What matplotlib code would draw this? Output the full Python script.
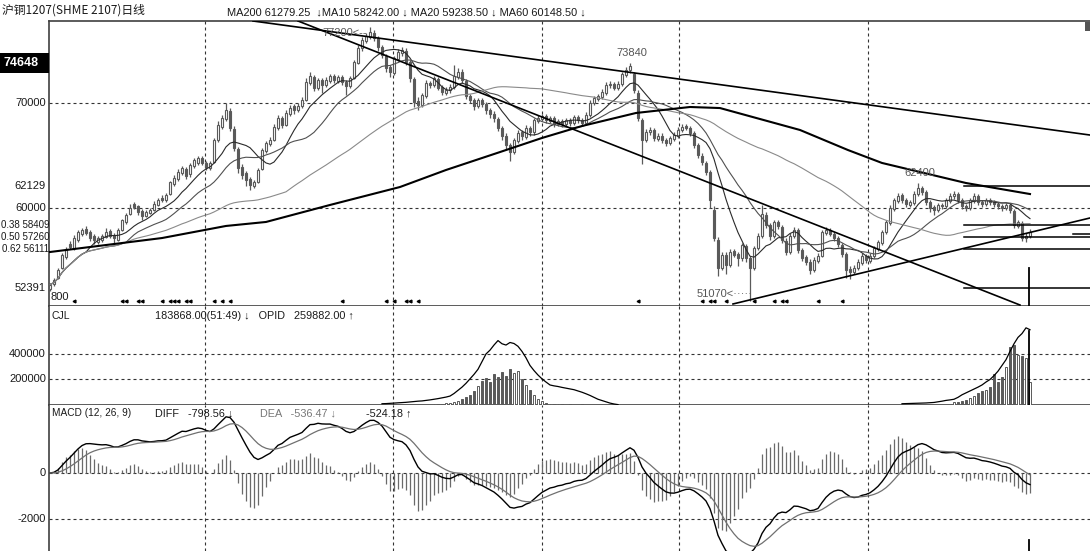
import numpy as np
import pandas as pd
import matplotlib
matplotlib.use('Agg')
import matplotlib.pyplot as plt
from matplotlib.patches import Rectangle

plt.rcParams['font.family'] = ['Liberation Sans', 'DejaVu Sans']

# ---------------- data ----------------
opens = [
52300, 52800, 53300, 54300, 55300, 56600, 56200, 57000, 57500, 58000,
57700, 57300, 56800, 57000, 57200, 57800, 57400, 57000, 57900, 58700,
59400, 60400, 60200, 59700, 59200, 59500, 59800, 60300, 61000, 60800,
61300, 62300, 62800, 63300, 63700, 63200, 64000, 64300, 64800, 64300,
63800, 64400, 66500, 67700, 68500, 69200, 67500, 65600, 63900, 63300,
62800, 62100, 62500, 63700, 65400, 66100, 66500, 67600, 68600, 67900,
69000, 69700, 69300, 69700, 70300, 71900, 72500, 71400, 72200, 71700,
72100, 72600, 72100, 72500, 72000, 71600, 72400, 73800, 75200, 75900,
76300, 76700, 76200, 75300, 74500, 73400, 72900, 74200, 74800, 75000,
73900, 72300, 70200, 69800, 70700, 71900, 71700, 72300, 71500, 71000,
71200, 71500, 72500, 73000, 72100, 70700, 70300, 69700, 70300, 69900,
69300, 69000, 68500, 67600, 66900, 66000, 65300, 66400, 67200, 66800,
67600, 67200, 68300, 68500, 68800, 68300, 68600, 68000, 68300, 68000,
68400, 68100, 68700, 68400, 68100, 68900, 70000, 70400, 70600, 71000,
71700, 71800, 71400, 71800, 72700, 73100, 72800, 71000, 68400, 66500,
67200, 67400, 66600, 66900, 66500, 66200, 66600, 66900, 67400, 67800,
67600, 67100, 66000, 65000, 64300, 63400, 59800, 57000, 54300, 55500,
54600, 55900, 55600, 55200, 56400, 55200, 54300, 56200, 57300, 59300,
58400, 57300, 58700, 58200, 56900, 55800, 57300, 57900, 56000, 55300,
54900, 54100, 55000, 55400, 57600, 57900, 57500, 57100, 56500, 55600,
54200, 53900, 54300, 54800, 55400, 55000, 55400, 56100, 56700, 57700,
58600, 59900, 60700, 61200, 60800, 60300, 60500, 61300, 61900, 61500,
60600, 60100, 59800, 60300, 60200, 60700, 61100, 61300, 60800, 60200,
60000, 60700, 61100, 60600, 60400, 60800, 60600, 60400, 60200, 60000,
60300, 59700, 58300, 58600, 57100, 57300]

closes = [
52700, 53100, 54100, 55500, 56000, 56300, 57100, 57700, 57900, 57600,
57100, 56950, 57100, 57300, 57700, 57300, 57100, 57900, 58860, 59330,
60000, 60100, 59620, 59240, 59620, 59810, 60380, 60760, 60760, 61240,
62430, 62860, 63430, 63810, 63050, 64100, 64570, 64760, 64290, 63900,
64290, 66480, 67900, 68570, 69330, 67620, 65710, 63810, 63140, 62670,
62190, 62430, 63620, 65520, 66190, 66480, 67710, 68570, 67900, 69050,
69520, 69330, 69710, 70290, 72000, 72570, 71430, 72190, 71710, 72190,
72570, 72190, 72480, 72000, 71620, 72380, 73900, 75240, 76000, 76380,
76760, 76190, 75330, 74570, 73330, 72950, 74290, 74860, 75050, 73900,
72380, 70100, 69810, 70760, 71900, 71710, 72380, 71430, 71050, 71240,
71520, 72570, 72950, 72190, 70670, 70290, 69710, 70290, 69900, 69330,
68950, 68570, 67620, 66860, 66000, 65330, 66480, 67140, 66860, 67620,
67240, 68380, 68570, 68760, 68380, 68570, 68000, 68290, 68000, 68380,
68100, 68670, 68380, 68100, 68860, 70000, 70480, 70670, 71050, 71710,
71810, 71430, 71810, 72760, 73140, 73520, 71240, 68570, 66480, 67240,
67430, 66670, 66860, 66480, 66190, 66670, 66950, 67430, 67710, 67620,
67140, 66000, 65050, 64380, 63430, 60760, 57140, 54290, 55520, 54570,
55810, 55520, 55240, 56480, 55240, 54290, 56190, 57330, 59430, 58380,
57330, 58670, 58290, 56950, 55810, 57330, 57900, 56000, 55240, 54860,
54100, 55050, 55430, 57710, 57900, 57520, 57140, 56570, 55620, 54100,
53900, 54290, 54860, 55430, 55050, 55430, 56190, 56760, 57710, 58670,
60000, 60760, 61140, 60760, 60380, 60570, 61330, 61900, 61520, 60570,
60000, 59810, 60290, 60190, 60760, 61140, 61330, 60760, 60190, 60000,
60760, 61140, 60570, 60380, 60760, 60570, 60380, 60190, 60000, 60290,
59810, 58380, 58670, 57140, 57330, 57710]

highs = [
52900, 53300, 54300, 55700, 56300, 56900, 57400, 57900, 58100, 58300,
57900, 57500, 57300, 57500, 58100, 58000, 57600, 58100, 59000, 59500,
60400, 60600, 60300, 59900, 59800, 60000, 60700, 61000, 61200, 61400,
62600, 63100, 63700, 64000, 63900, 64300, 64800, 65000, 65000, 64500,
64500, 66700, 68300, 68900, 70000, 69500, 67800, 65800, 64200, 63500,
63000, 62700, 63800, 65700, 66400, 66800, 68000, 68900, 68800, 69300,
69800, 69900, 70000, 70600, 72400, 73000, 72700, 72400, 72400, 72500,
72800, 72800, 72700, 72700, 72200, 72600, 74100, 75500, 76300, 76700,
77200, 77000, 76400, 75500, 74700, 73600, 74500, 75100, 75300, 75200,
74100, 72500, 70600, 71000, 72200, 72100, 72600, 72500, 71700, 71500,
71800, 73600, 73300, 73200, 72300, 70900, 70500, 70500, 70500, 70100,
69500, 69200, 68700, 67800, 67100, 66200, 66700, 67400, 67400, 67900,
67800, 68600, 68900, 69000, 69000, 68800, 68800, 68500, 68500, 68600,
68600, 68900, 68900, 68600, 69100, 70300, 70700, 70900, 71300, 72000,
72100, 72000, 72100, 73000, 73400, 73840, 73000, 71200, 68600, 67500,
67700, 67600, 67100, 67100, 66700, 66900, 67200, 67700, 68000, 68000,
67800, 67300, 66200, 65200, 64500, 63600, 60200, 57200, 55800, 55800,
56100, 56100, 55800, 56700, 56600, 55400, 56400, 57600, 60300, 59600,
58600, 58900, 58900, 58400, 57100, 57600, 58200, 58100, 56200, 55500,
55100, 55300, 55700, 57900, 58200, 58100, 57700, 57300, 56700, 55800,
54500, 54600, 55100, 55700, 55600, 55700, 56400, 57000, 57900, 58900,
60300, 61000, 61400, 61400, 61000, 60800, 61600, 62400, 62100, 61700,
60800, 60300, 60500, 60500, 61000, 61400, 61600, 61500, 61000, 60400,
61000, 61400, 61300, 60800, 61000, 61000, 60800, 60600, 60400, 60500,
60500, 59900, 58900, 58800, 57600, 58000]

lows = [
52100, 52600, 53200, 54200, 55100, 56100, 56000, 56800, 57300, 57400,
56900, 56600, 56600, 56800, 57100, 57100, 56700, 56900, 57800, 58500,
59300, 59900, 59300, 58900, 59100, 59400, 59700, 60200, 60600, 60600,
61200, 62100, 62600, 63100, 62800, 63000, 63800, 64100, 64100, 63600,
63600, 64300, 66300, 67500, 68300, 67300, 65400, 63300, 62800, 62100,
61700, 61900, 62400, 63600, 65200, 65900, 66400, 67400, 67600, 67800,
68800, 69000, 69100, 69500, 70200, 71700, 71100, 71200, 71000, 71500,
71900, 71900, 71900, 71700, 70800, 71400, 72300, 73700, 75000, 75700,
76100, 75900, 75000, 74300, 73000, 72500, 72700, 74000, 74500, 73600,
72000, 69600, 69300, 69600, 70500, 71400, 71500, 71200, 70800, 70800,
71000, 71300, 72300, 71900, 70400, 70000, 69300, 69500, 69600, 69000,
68600, 68200, 67300, 66500, 65600, 64500, 65100, 66200, 66500, 66600,
66900, 67000, 68100, 68300, 68100, 68100, 67700, 67800, 67700, 67800,
67800, 67900, 68100, 67800, 67900, 68700, 69800, 70200, 70400, 70800,
71400, 71200, 71200, 71600, 72500, 72900, 71000, 68300, 64200, 66300,
67000, 66400, 66400, 66200, 65900, 66000, 66400, 66700, 67200, 67400,
66900, 65700, 64800, 64100, 63100, 60000, 56900, 53500, 54100, 53700,
54400, 55300, 54500, 55000, 54900, 51100, 54100, 56000, 57100, 58100,
57000, 57100, 58000, 56700, 55500, 55600, 57100, 55700, 55000, 54600,
53700, 53900, 54800, 55300, 57400, 57300, 56900, 56300, 55300, 53300,
53200, 53700, 54100, 54600, 54800, 54800, 55200, 55900, 56500, 57500,
58400, 59700, 60500, 60500, 60100, 60100, 60300, 61100, 61200, 60300,
59600, 59300, 59600, 59900, 60000, 60500, 60900, 60500, 59900, 59700,
59800, 60500, 60300, 60100, 60200, 60300, 60100, 59900, 59700, 59800,
59500, 58100, 58100, 56900, 56800, 57100]

volume = ([0] * 96 +
          [5000, 8000, 10000, 12000, 15000, 20000, 30000, 45000, 60000, 80000,
           110000, 150000, 190000, 210000, 180000, 240000, 220000, 260000, 230000, 280000,
           250000, 270000, 200000, 160000, 120000, 80000, 50000, 30000, 15000, 8000,
           6000, 5000, 4000, 3000, 5000, 3000, 2000, 4000, 3000, 2000,
           2000, 1000, 1000, 1000] +
          [0] * 86 +
          [20000, 25000, 30000, 40000, 57000, 70000, 95000, 110000, 120000, 145000,
           245000, 182000, 220000, 300000, 457000, 470000, 395000, 382000, 370000, 180000])

nan = float('nan')
open_interest = ([nan] * 83 +
    [10000, 11000, 13000, 15000, 17000, 19000, 21000, 24000, 27000, 30000,
     32000, 36000, 40000, 45000, 50000, 56000, 62000, 70000, 90000, 115000,
     140000, 170000, 205000, 240000, 280000, 340000, 400000, 430000, 470000, 505000,
     480000, 470000, 490000, 482000, 460000, 420000, 370000, 310000, 270000, 235000,
     205000, 180000, 157000, 150000, 145000, 138000, 132000, 126000, 120000, 110000,
     100000, 88000, 75000, 60000, 45000, 35000, 25000, 15000, 8000, 3000] +
    [nan] * 70 +
    [10000, 11000, 12000, 13000, 14000, 15000, 16000, 18000, 20000, 25000,
     30000, 36000, 40000, 45000, 60000, 80000, 95000, 110000, 125000, 140000,
     157000, 180000, 200000, 230000, 265000, 310000, 355000, 420000, 480000, 530000,
     560000, 605000, 590000])

# MA200 (needs history before the window) read at sample bars
ma200_bar = [0, 28, 44, 54, 70, 87.5, 99, 112.5, 123, 133, 146.5, 160, 167.5, 187.5, 199.5, 208, 229, 245]
ma200_val = [55810, 57140, 58290, 58670, 60290, 62000, 63620, 65330, 66670, 67810, 69050, 69620, 69520, 67430, 65520, 64290, 62380, 61330]

# drawn trend lines (bar, price) pairs
trend_lines = [((50.75, 77810), (260.0, 66950)),
               ((62.0, 77810), (242.5, 50760)),
               ((170.75, 50860), (260.0, 59050))]
fib_prices = [62129, 58409, 57260, 56111, 52391]
fib_start = 228.5
main_tick_vals = [70000, 62129, 60000, 52391]
main_tick_labels = ['70000', '62129', '60000', '52391']
fib_tick_vals = [58409, 57260, 56111]
fib_tick_labels = ['0.38 58409', '0.50 57260', '0.62 56111']
marker_bars = [6, 18, 19, 22, 23, 28, 30, 31, 32, 34, 35, 41, 43, 45, 73, 84, 86, 89, 90, 92,
               147, 163, 165, 166, 169, 176, 181, 183, 184, 192, 198]
vgrid_bars = [38.75, 85.75, 123, 157.25, 204.5]

# ---------------- computations ----------------
o = np.array(opens, float); c = np.array(closes, float)
h = np.array(highs, float); l = np.array(lows, float)
N = len(c)
x = np.arange(N)
s = pd.Series(c)
ma10 = s.rolling(10, min_periods=1).mean()
ma20 = s.rolling(20, min_periods=1).mean()
ma60 = s.rolling(60, min_periods=1).mean()
ema12 = s.ewm(span=12, adjust=False).mean()
ema26 = s.ewm(span=26, adjust=False).mean()
diff = ema12 - ema26
dea = diff.ewm(span=9, adjust=False).mean()
hist = 2 * (diff - dea)
vol = np.array(volume, float)
oi = np.array(open_interest, float)
up = c >= o

# ---------------- layout ----------------
W, H = 1090, 551
fig = plt.figure(figsize=(W / 100, H / 100), dpi=100)
fig.patch.set_facecolor('white')

def rect(x0, y0, x1, y1):
    return [x0 / W, 1 - y1 / H, (x1 - x0) / W, (y1 - y0) / H]

ax = fig.add_axes(rect(49, 21, 1090, 306))
axv = fig.add_axes(rect(49, 306, 1090, 405))
axm = fig.add_axes(rect(49, 405, 1090, 551))
XL = (-0.25, 260.0)
GRAY = '#5a5a5a'
DASH = (0, (2.7, 2.7))

for a in (ax, axv, axm):
    a.set_xlim(*XL)
    a.set_xticks([]); a.set_yticks([])
    a.spines['right'].set_visible(False)
    for sp in ('left', 'top', 'bottom'):
        a.spines[sp].set_color('#404040'); a.spines[sp].set_linewidth(1.2)
    for vb in vgrid_bars:
        a.axvline(vb, color='#333333', lw=0.8, ls=DASH, zorder=0)
axv.spines['top'].set_visible(False)
axm.spines['top'].set_visible(False)
axm.spines['bottom'].set_visible(False)

ax.set_ylim(50667, 77810)
axv.set_ylim(0, 776000)
axm.set_ylim(-3391, 2957)

for v in (70000, 60000):
    ax.axhline(v, color='#333333', lw=0.8, ls=DASH, zorder=0)
for v in (400000, 200000):
    axv.axhline(v, color='#333333', lw=0.8, ls=DASH, zorder=0)
for v in (0, -2000):
    axm.axhline(v, color='#333333', lw=0.8, ls=DASH, zorder=0)

# ---------------- main panel ----------------
ax.vlines(x, l, h, color=GRAY, lw=0.9, zorder=2)
body_h = np.maximum(np.abs(c - o), 60)
ax.bar(x, body_h, bottom=np.minimum(o, c), width=0.6,
       color=np.where(up, 'white', GRAY), edgecolor=GRAY, lw=0.8, zorder=3)
ax.plot(x, ma10, color='#2a2a2a', lw=0.8, zorder=4)
ax.plot(x, ma20, color='#505050', lw=0.8, zorder=4)
ax.plot(x, ma60, color='#8a8a8a', lw=0.8, zorder=4)
ax.plot(ma200_bar, ma200_val, color='black', lw=1.5, zorder=5)
for (x0, y0), (x1, y1) in trend_lines:
    ax.plot([x0, x1], [y0, y1], color='black', lw=1.2, zorder=5, clip_on=True)
for p in fib_prices:
    ax.plot([fib_start, XL[1]], [p, p], color='black', lw=1.1, zorder=5)
ax.plot([255.75, XL[1]], [57500, 57500], color='black', lw=1.1, zorder=5)
# cursor line
ax.plot([244.75, 244.75], [54290, 50667], color='black', lw=1.3, zorder=6)
ax.plot(marker_bars, [0.018] * len(marker_bars), transform=ax.get_xaxis_transform(),
        ls='none', marker='<', ms=2.0, color='black', zorder=6)

tk = dict(fontsize=8, color='#1a1a1a', clip_on=False)
for v, lab in zip(main_tick_vals, main_tick_labels):
    ax.text(-0.003, v, lab, transform=ax.get_yaxis_transform(), ha='right', va='center', **tk)
tkf = dict(tk); tkf['fontsize'] = 7.0
for v, lab in zip(fib_tick_vals, fib_tick_labels):
    ax.text(0.0005, v, lab, transform=ax.get_yaxis_transform(), ha='right', va='center', **tkf)
ax.text(0.001, 51500, '800', transform=ax.get_yaxis_transform(), ha='left', va='center', **tk)

ann = dict(fontsize=8, color='#555555', zorder=7)
ax.text(68, 76670, '77200<--', ha='left', va='center', **ann)
ax.text(145.5, 74760, '73840', ha='center', va='center', **ann)
ax.text(217.5, 63330, '62400', ha='center', va='center', **ann)
ax.text(161.75, 51810, '51070<·····', ha='left', va='center', **ann)

# ---------------- volume panel ----------------
m = vol > 0
axv.bar(x[m], vol[m], width=0.6, color=np.where(up[m], 'white', GRAY),
        edgecolor=GRAY, lw=0.7, zorder=3)
axv.plot(x, oi, color='black', lw=0.9, zorder=4)
axv.plot([244.75, 244.75], [580000, 0], color='black', lw=1.3, zorder=6)
for v, lab in ((400000, '400000'), (200000, '200000')):
    axv.text(-0.003, v, lab, transform=axv.get_yaxis_transform(), ha='right', va='center', **tk)

# ---------------- MACD panel ----------------
axm.vlines(x, 0, hist, color='#6a6a6a', lw=0.9, zorder=2)
axm.plot(x, diff, color='black', lw=1.0, zorder=4)
axm.plot(x, dea, color='#707070', lw=0.9, zorder=4)
axm.plot([244.75, 244.75], [-2913, -3391], color='black', lw=1.3, zorder=6)
for v, lab in ((0, '0'), (-2000, '-2000')):
    axm.text(-0.003, v, lab, transform=axm.get_yaxis_transform(), ha='right', va='center', **tk)

# ---------------- headers ----------------
def ft(px, py, s, **kw):
    fig.text(px / W, 1 - py / H, s, va='center', ha='left', **kw)

ft(2, 10, '沪铜1207(SHME 2107)日线', fontsize=8.5, color='#1a1a1a',
   family=['Noto Sans CJK SC', 'DejaVu Sans'])
ft(227, 12, 'MA200 61279.25  ↓MA10 58242.00 ↓ MA20 59238.50 ↓ MA60 60148.50 ↓',
   fontsize=7.9, color='#1a1a1a', family=['Liberation Sans', 'DejaVu Sans'])
ft(52, 316, 'CJL', fontsize=7.5, color='#1a1a1a', family=['Liberation Sans', 'DejaVu Sans'])
ft(155, 316, '183868.00(51:49) ↓   OPID   259882.00 ↑', fontsize=7.8, color='#1a1a1a',
   family=['Liberation Sans', 'DejaVu Sans'])
ft(52, 413, 'MACD (12, 26, 9)', fontsize=7.3, color='#1a1a1a', family=['Liberation Sans', 'DejaVu Sans'])
ft(155, 413, 'DIFF   -798.56 ↓', fontsize=7.8, color='#1a1a1a', family=['Liberation Sans', 'DejaVu Sans'])
ft(260, 413, 'DEA   -536.47 ↓', fontsize=7.8, color='#777777', family=['Liberation Sans', 'DejaVu Sans'])
ft(366, 413, '-524.18 ↑', fontsize=7.8, color='#1a1a1a', family=['Liberation Sans', 'DejaVu Sans'])

# cursor price box
fig.add_artist(Rectangle((0, 1 - 73 / H), 49 / W, 20 / H, transform=fig.transFigure,
                         facecolor='black', edgecolor='none'))
ft(3, 63, '74648', fontsize=9, color='white', fontweight='bold')
fig.add_artist(Rectangle((1085 / W, 1 - 31 / H), 5 / W, 9 / H, transform=fig.transFigure,
                         facecolor='#555555', edgecolor='none'))

fig.savefig('out.png', dpi=100, facecolor='white')
